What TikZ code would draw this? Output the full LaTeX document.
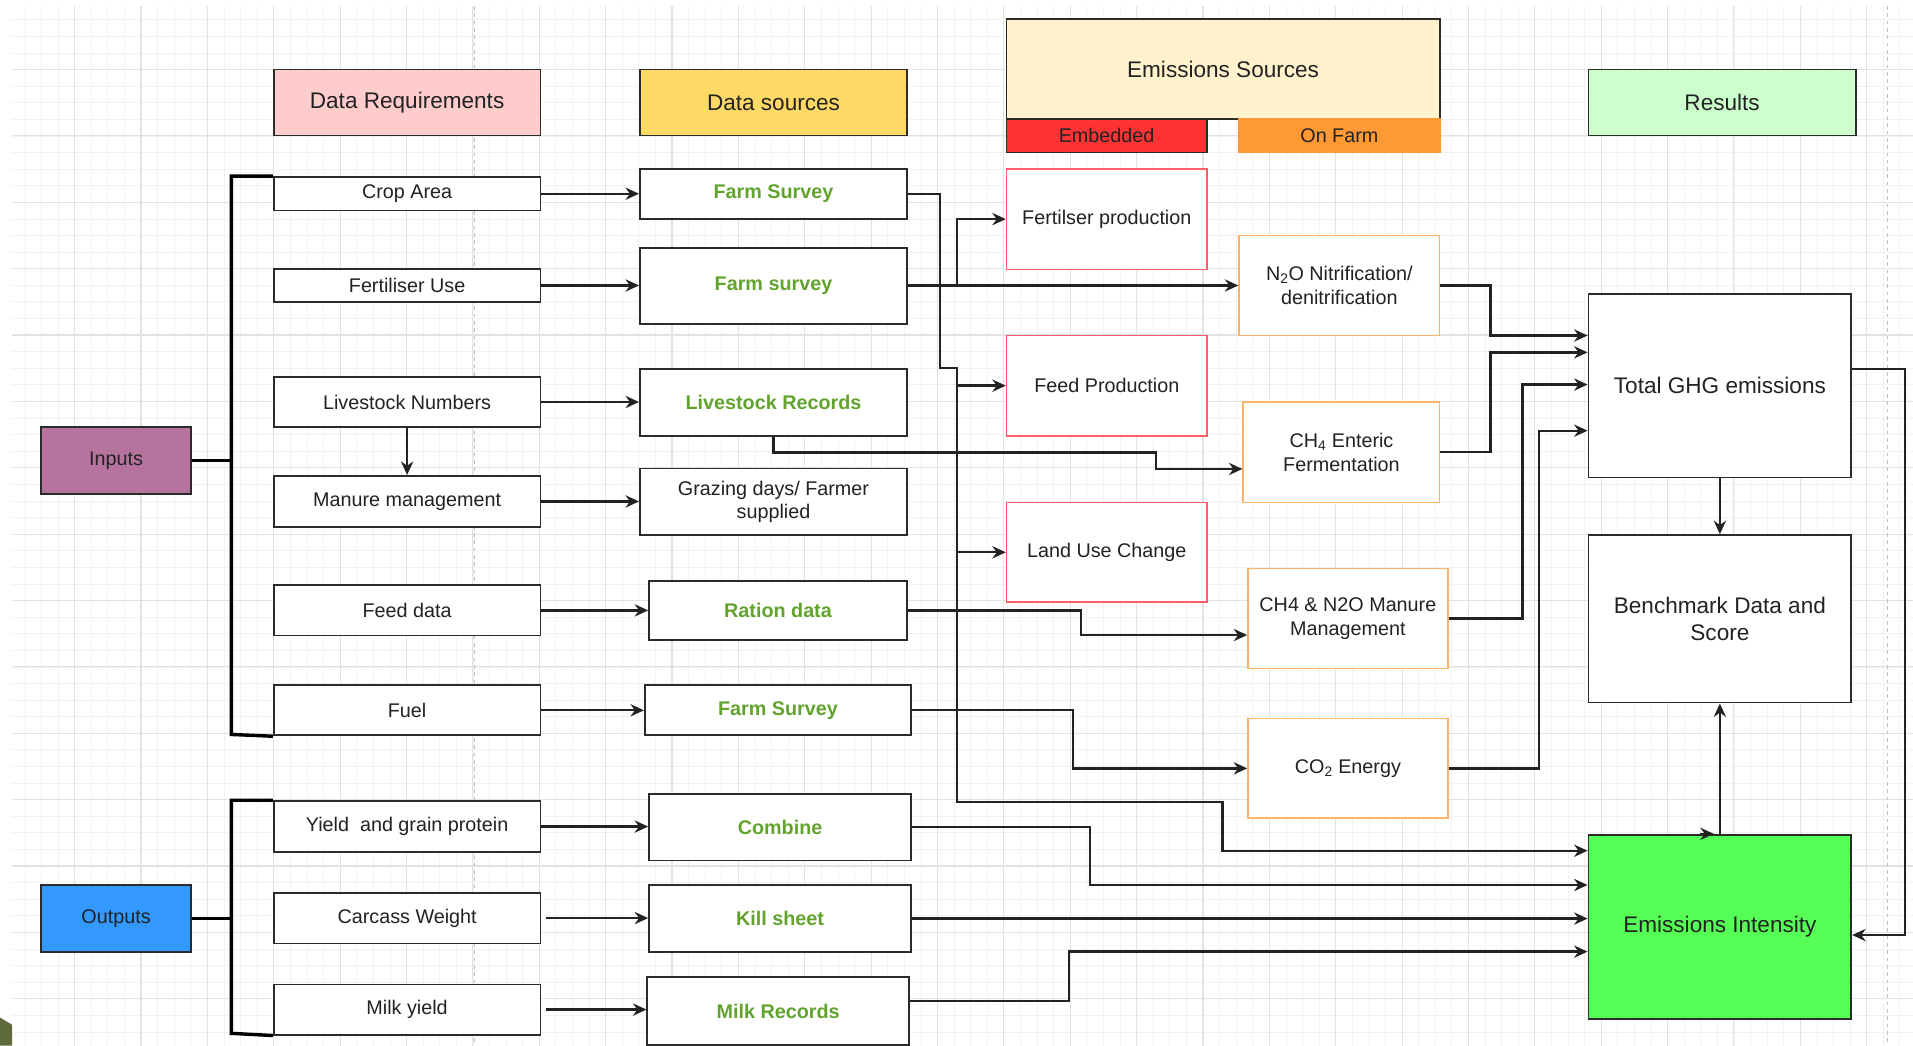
\documentclass[tikz,border=0pt]{standalone}
\usepackage{fontspec}
\setmainfont{Liberation Sans}
\usetikzlibrary{arrows.meta}
\definecolor{cpink}{HTML}{FFCCCC}
\definecolor{cgold}{HTML}{FFD966}
\definecolor{cyel}{HTML}{FFF2CC}
\definecolor{cred}{HTML}{FF3333}
\definecolor{corange}{HTML}{FF9933}
\definecolor{cmint}{HTML}{CCFFCC}
\definecolor{cmauve}{HTML}{B5739D}
\definecolor{cblue}{HTML}{3399FF}
\definecolor{cgreen}{HTML}{55FF55}
\definecolor{redb}{HTML}{FF5C6A}
\definecolor{orb}{HTML}{FFB366}
\definecolor{grn}{HTML}{62A32D}
\definecolor{txt}{HTML}{222222}
\definecolor{bord}{HTML}{2B2B2B}
\definecolor{gmin}{HTML}{F2F2F2}
\definecolor{gmaj}{HTML}{E2E2E2}
\definecolor{olivec}{HTML}{5F6A3A}
\newcommand\fntS{\fontsize{16.2}{19.5}\selectfont}
\newcommand\fntB{\fontsize{18.5}{22}\selectfont}
\newcommand\mybox[6]{\node[#1, minimum width=#4pt, minimum height=#5pt] (#2) at (#3) {#6};}
\begin{document}
\begin{tikzpicture}[x=1pt,y=-1pt,
  box/.style={rectangle, inner sep=0pt, align=center, text=txt, font=\fntS, draw=bord, line width=1.5pt, fill=white},
  hdr/.style={box, font=\fntB},
  src/.style={box, text=grn, font=\fntS\bfseries},
  embx/.style={box, draw=redb, line width=1.3pt},
  onfx/.style={box, draw=orb, line width=1.3pt},
  resb/.style={box, font=\fntB},
  arr/.style={draw=txt, line width=1.9pt, -{Stealth[length=11pt,width=10pt]}},
  brk/.style={draw=black, line width=2.8pt},
  gridminor/.style={draw=gmin, line width=0.6pt},
  gridmajor/.style={draw=gmaj, line width=0.9pt},
  pagebrk/.style={draw=black!25, line width=0.8pt, dashed}]
\useasboundingbox (0,0) rectangle (1568,857);
\fill[white] (0,0) rectangle (1568,857);
\begin{scope}
\clip (10,5) rectangle (1568,857);
\foreach \xx in {6.8,20.4,...,1571} \draw[gridminor] (\xx,0) -- (\xx,857);
\foreach \yy in {2.6,16.2,...,860} \draw[gridminor] (0,\yy) -- (1568,\yy);
\foreach \xx in {6.8,61.2,...,1571} \draw[gridmajor] (\xx,0) -- (\xx,857);
\foreach \yy in {2.6,57,...,860} \draw[gridmajor] (0,\yy) -- (1568,\yy);
\end{scope}
\draw[pagebrk] (389,5) -- (389,857);
\draw[pagebrk] (1547,5) -- (1547,857);
\fill[olivec] (0,834) -- (10,840) -- (10,857) -- (0,857) -- cycle;

% headers
\mybox{hdr, fill=cpink}{dreq}{333.7,84}{218.6}{54}{Data Requirements}
\mybox{hdr, fill=cgold}{dsrc}{634,84}{219}{54}{Data sources}
\mybox{hdr, fill=cyel}{esrc}{1002.5,56.6}{355}{81.7}{Emissions Sources}
\mybox{box, fill=cred}{embh}{907,111.2}{164}{27.5}{Embedded}
\mybox{box, fill=corange, draw=corange}{onfh}{1097.8,111.2}{164.3}{27.5}{On Farm}
\mybox{hdr, fill=cmint}{resh}{1411.5,84}{219}{54}{Results}
\mybox{box, fill=cmauve}{inp}{95.1,377.5}{123}{55}{Inputs}
\mybox{box, fill=cblue}{outp}{95.1,752.9}{123}{55}{Outputs}

% data requirements
\mybox{box}{crop}{333.7,158.8}{218.6}{27.5}{Crop Area}
\mybox{box}{fert}{333.7,234}{218.6}{26.7}{Fertiliser Use}
\mybox{box}{lsn}{333.7,329.5}{218.6}{40.4}{Livestock Numbers}
\mybox{box}{man}{333.7,411}{218.6}{42}{Manure management}
\mybox{box}{feed}{333.7,500.3}{218.6}{41.3}{Feed data}
\mybox{box}{fuel}{333.7,582.2}{218.6}{41}{Fuel}
\mybox{box}{yld}{333.7,677.5}{218.6}{41.7}{Yield\ \ and grain protein}
\mybox{box}{carc}{333.7,752.5}{218.6}{41.8}{Carcass Weight}
\mybox{box}{milk}{333.7,827.5}{218.6}{41}{Milk yield}

% data sources
\mybox{src}{fsa}{634,158.9}{219}{41}{Farm Survey}
\mybox{src}{fsb}{634,234.4}{219}{61.8}{Farm survey}
\mybox{src}{lsr}{634,329.8}{219}{54.8}{Livestock Records}
\mybox{box}{graz}{634,411.3}{219}{54.6}{Grazing days/ Farmer\\supplied}
\mybox{src}{ration}{637.7,500.4}{211.4}{47.7}{Ration data}
\mybox{src}{fsc}{637.7,582.2}{218.3}{41}{Farm Survey}
\mybox{src}{comb}{639.4,678}{214.8}{54.6}{Combine}
\mybox{src}{kill}{639.4,752.9}{214.8}{54.9}{Kill sheet}
\mybox{src}{milkr}{637.8,828.7}{214.4}{55.8}{Milk Records}

% emission sources
\mybox{embx}{fprod}{907.2,179.6}{164.3}{82.3}{Fertilser production}
\mybox{embx}{feedp}{907.2,316.1}{164.3}{82.2}{Feed Production}
\mybox{embx}{luc}{907.2,452.7}{164.3}{81.7}{Land Use Change}
\mybox{onfx}{nto}{1097.8,234}{164.3}{82}{N\textsubscript{2}O Nitrification/\\denitrification}
\mybox{onfx}{che}{1099.5,370.7}{161}{82.3}{CH\textsubscript{4} Enteric\\Fermentation}
\mybox{onfx}{mm}{1104.8,506.9}{163.8}{81.8}{CH4 \& N2O Manure\\Management}
\mybox{onfx}{coe}{1104.8,629.8}{163.8}{81.5}{CO\textsubscript{2} Energy}

% results
\mybox{resb}{tgh}{1409.7,316.2}{215.4}{150.3}{Total GHG emissions}
\mybox{resb}{bench}{1409.7,507.2}{215.4}{137.3}{Benchmark Data and\\Score}
\mybox{resb, fill=cgreen}{ei}{1409.7,759.6}{215.4}{150.8}{Emissions Intensity}

% bend points
\coordinate (bx) at (189.7,0);
\coordinate (k1) at (770.5,301.9);
\coordinate (k2) at (784.2,657.1);
\coordinate (k3) at (1001.9,697.3);
\coordinate (k5) at (947.5,370.8);
\coordinate (k6) at (947.5,384.4);
\coordinate (k7) at (886,520.5);
\coordinate (k8) at (879.2,629.8);
\coordinate (k9) at (893.4,725.4);
\coordinate (k10) at (876.2,780);
\coordinate (k11) at (876.2,820.5);
\coordinate (k12) at (1221.8,275);
\coordinate (k13) at (1221.8,288.8);
\coordinate (k14) at (1247.8,315.2);
\coordinate (k15) at (1261.5,353);
\coordinate (k16) at (1561.7,302.4);
\coordinate (k17) at (1561.7,766.4);
\coordinate (k18) at (189.7,602);
\coordinate (k19) at (189.7,847);

% brackets
\draw[brk] (crop.north west) -| (k18) -- (fuel.south west);
\draw[brk] (inp.east) -- (inp.east -| bx);
\draw[brk] (yld.north west) -| (k19) -- (milk.south west);
\draw[brk] (outp.east) -- (outp.east -| bx);

% requirements -> sources
\draw[arr] (crop.east) -- (crop.east -| fsa.west);
\draw[arr] (fert.east) -- (fert.east -| fsb.west);
\draw[arr] (lsn.east) -- (lsn.east -| lsr.west);
\draw[arr] (lsn.south) -- (man.north);
\draw[arr] (man.east) -- (man.east -| graz.west);
\draw[arr] (feed.east) -- (feed.east -| ration.west);
\draw[arr] (fuel.east) -- (fuel.east -| fsc.west);
\draw[arr] (yld.east) -- (yld.east -| comb.west);
\draw[arr] ([xshift=4pt]carc.east) -- (carc.east -| kill.west);
\draw[arr] ([xshift=4pt]milk.east) -- (milk.east -| milkr.west);

% sources -> emissions
\draw[arr] (fsa.east) -| (k1) -| (k2) -| (k3) -- (ei.west |- k3);
\draw[arr] (feedp.west -| k2) -- (feedp.west);
\draw[arr] (luc.west -| k2) -- (luc.west);
\draw[arr] (nto.west -| fsb.east) -- (nto.west);
\draw[arr] (nto.west -| k2) |- (fprod.west);
\draw[arr] (lsr.south) |- (k5) -- (k6) -- (che.west |- k6);
\draw[arr] (ration.east) -| (k7) -- (mm.west |- k7);
\draw[arr] (fsc.east) -| (k8) -- (coe.west);
\draw[arr] (comb.east) -| (k9) -- (ei.west |- k9);
\draw[arr] (kill.east) -- (kill.east -| ei.west);
\draw[arr] (milkr.east |- k11) -| (k10) -- (ei.west |- k10);

% emissions -> results
\draw[arr] (nto.east) -| (k12) -- (tgh.west |- k12);
\draw[arr] (che.east) -| (k13) -- (tgh.west |- k13);
\draw[arr] (mm.east) -| (k14) -- (tgh.west |- k14);
\draw[arr] (coe.east) -| (k15) -- (tgh.west |- k15);
\draw[arr] (tgh.south) -- (bench.north);
\draw[arr] (ei.north) -- (bench.south);
\draw[arr] ([xshift=-16pt]ei.north) -- ([xshift=-5pt]ei.north);
\draw[arr] (tgh.east |- k16) -- (k16) -- (k17) -- (ei.east |- k17);
\end{tikzpicture}
\end{document}
